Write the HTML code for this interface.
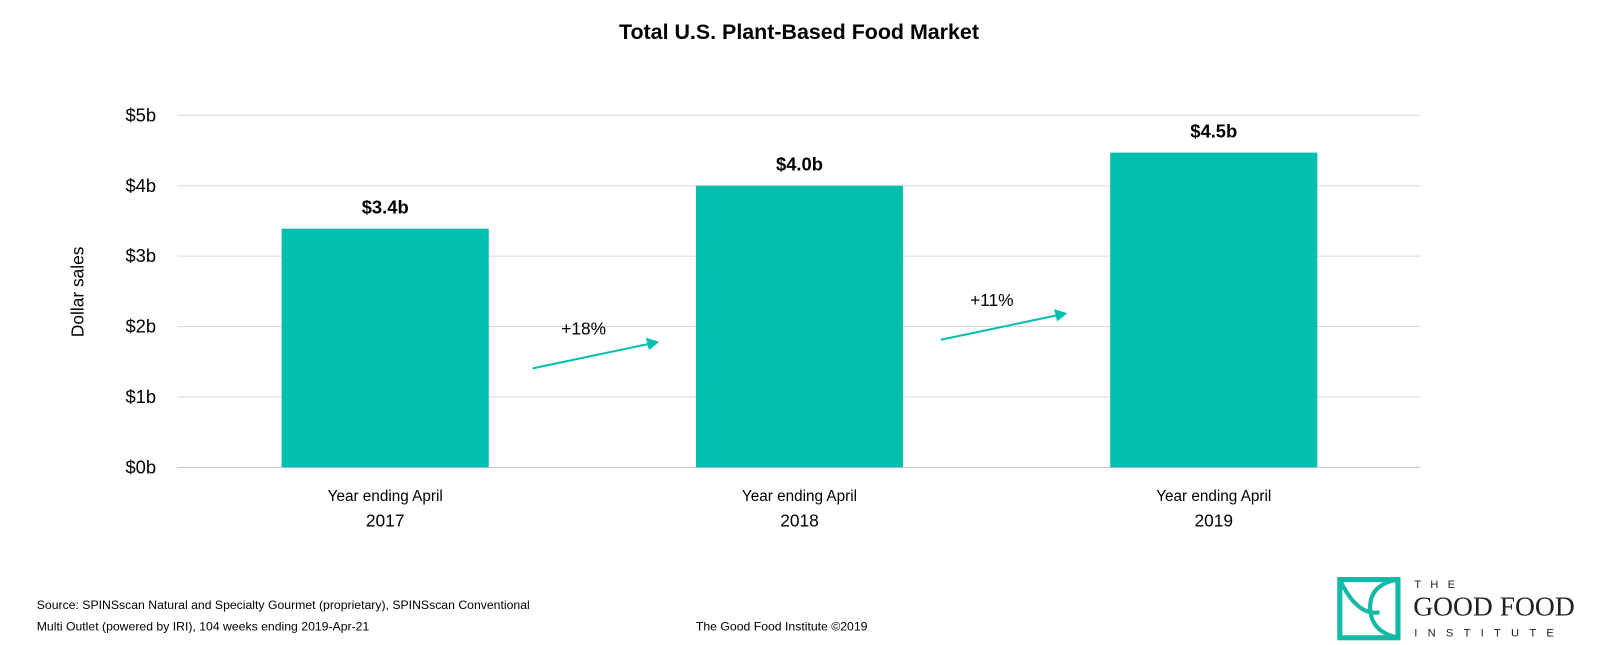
<!DOCTYPE html>
<html><head><meta charset="utf-8"><style>
body{margin:0;width:1600px;height:645px;background:#fff;overflow:hidden;font-family:"Liberation Sans",sans-serif}
svg{display:block}
</style></head><body>
<svg width="1600" height="645">
<g transform="scale(1.0204)">
<text x="783" y="38" text-anchor="middle" font-size="21" font-weight="bold" fill="#000">Total U.S. Plant-Based Food Market</text>
<g id="grid"></g>
<g id="bars"></g>
<text transform="translate(82,286) rotate(-90)" text-anchor="middle" font-size="17" fill="#000">Dollar sales</text>
<g id="arrows"></g>
<text x="36" y="597" font-size="12" fill="#000">Source: SPINSscan Natural and Specialty Gourmet (proprietary), SPINSscan Conventional</text>
<text x="36" y="618" font-size="12" fill="#000">Multi Outlet (powered by IRI), 104 weeks ending 2019-Apr-21</text>
<text x="682" y="618" font-size="12" fill="#000">The Good Food Institute ©2019</text>
<g>
<rect x="1313" y="568" width="57" height="57" fill="none" stroke="#14b8a6" stroke-width="5"/>
<path d="M1313 568 Q1330 604 1352 600" fill="none" stroke="#14b8a6" stroke-width="4"/>
<path d="M1370 568 Q1340 573 1343 600 Q1346 620 1370 625" fill="none" stroke="#14b8a6" stroke-width="4"/>
<text x="1386" y="576" font-size="11" letter-spacing="9" fill="#222">THE</text>
<text x="1385" y="603" font-size="27" font-family="Liberation Serif,serif" fill="#222">GOOD FOOD</text>
<text x="1386" y="624" font-size="11" letter-spacing="10" fill="#222">INSTITUTE</text>
</g>
</g>
</svg>
<script>
const categories=["2017","2018","2019"];
const values=[3.39,4.0,4.47];
const valueLabels=["$3.4b","$4.0b","$4.5b"];
const ticks=[0,1,2,3,4,5];
const growthLabels=["+18%","+11%"];
const NS="http://www.w3.org/2000/svg";
const y=v=>458-v*69;
const bandX=i=>276+i*406;
const bw=203;
function mk(t,a,p){const e=document.createElementNS(NS,t);for(const k in a)e.setAttribute(k,a[k]);p.appendChild(e);return e;}
const grid=document.getElementById('grid');
ticks.forEach(t=>{
 const l=mk('line',{x1:174,x2:1392,y1:y(t),y2:y(t),stroke:t===0?'#bfbfbf':'#d9d9d9','stroke-width':1},grid);
 
 
 const tx=mk('text',{x:153,y:y(t)+6,'text-anchor':'end','font-size':18,fill:'#000'},grid);
 tx.textContent='$'+t+'b';
 
 
});
const bars=document.getElementById('bars');
categories.forEach((c,i)=>{
 const r=mk('rect',{x:bandX(i),y:y(values[i]),width:bw,height:y(0)-y(values[i]),fill:'#00bfae'},bars);
 
 
 const v=mk('text',{x:bandX(i)+bw/2,y:y(values[i])-15,'text-anchor':'middle','font-size':18,'font-weight':'bold',fill:'#000'},bars);
 v.textContent=valueLabels[i];
 
 
 const a=mk('text',{x:bandX(i)+bw/2,y:491,'text-anchor':'middle','font-size':15,fill:'#000'},bars);
 a.textContent='Year ending April';
 
 
 const b=mk('text',{x:bandX(i)+bw/2,y:516,'text-anchor':'middle','font-size':17,fill:'#000'},bars);
 b.textContent=c;
 
 
});
const arr=document.getElementById('arrows');
growthLabels.forEach((g,i)=>{
 const x0=522+i*400,y0=361-i*28;
 const l=mk('line',{x1:x0,y1:y0,x2:x0+114,y2:y0-24,stroke:'#00bfae','stroke-width':2},arr);
 
 
 const h=mk('polygon',{points:`${x0+124},${y0-26} ${x0+111},${y0-30} ${x0+114},${y0-18}`,fill:'#00bfae'},arr);
 
 
 const t=mk('text',{x:x0+50,y:y0-33,'text-anchor':'middle','font-size':17,fill:'#000'},arr);
 t.textContent=g;
 
 
});
</script>
</body></html>
